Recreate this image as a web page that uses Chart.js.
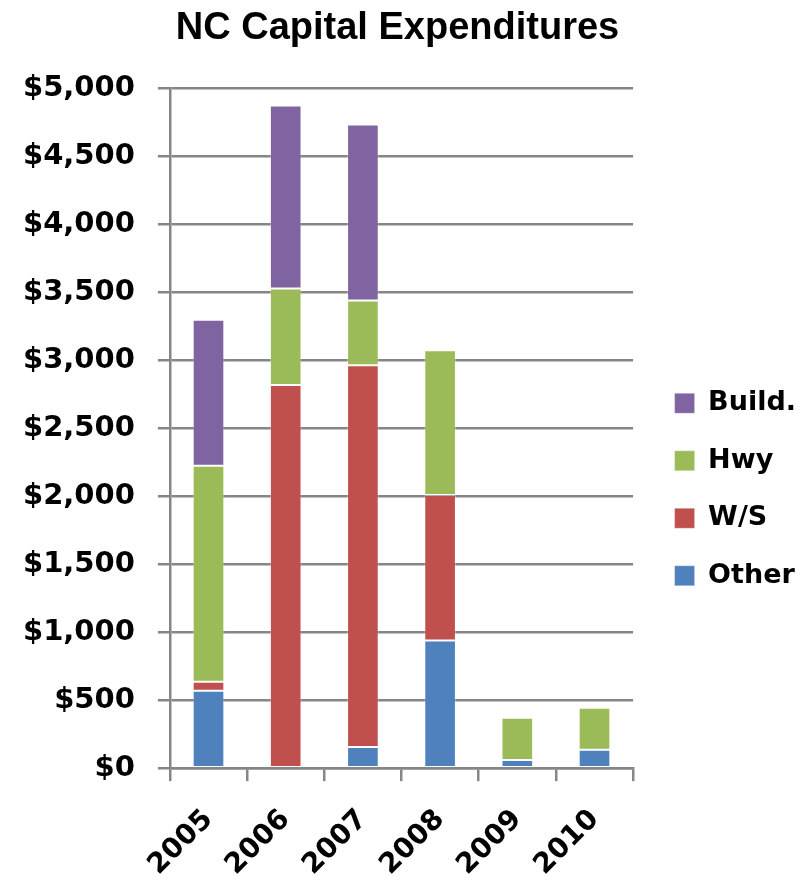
<!DOCTYPE html>
<html>
<head>
<meta charset="utf-8">
<script src="https://cdn.jsdelivr.net/npm/chart.js@4.4.1/dist/chart.umd.min.js"></script>
<style>
    html, body { margin: 0; padding: 0; background: #ffffff; }
    #wrap { width: 805px; height: 889px; }
</style>
</head>
<body>
<div id="wrap"><canvas id="capexChart" width="805" height="889"></canvas></div>
<script>
// Capital expenditures by year, in thousands of dollars
const years = ['2005', '2006', '2007', '2008', '2009', '2010'];
const other = [570, 0, 155, 940, 60, 135];
const waterSewer = [65, 2820, 2810, 1070, 0, 0];
const highway = [1590, 710, 475, 1065, 310, 310];
const buildings = [1075, 1345, 1295, 10, 0, 0];

const yTicks = [0, 500, 1000, 1500, 2000, 2500, 3000, 3500, 4000, 4500, 5000];

const gridGray = '#868686';
const legendShiftX = 11; // nudge the legend right, away from the plot
const legendShiftY = 36; // and down, level with the middle of the bars

// Moves the legend box after layout
const legendOffset = {
    id: 'legendOffset',
    afterLayout(chart) {
        const lg = chart.legend;
        if (!lg) return;
        lg.left += legendShiftX;
        lg.right += legendShiftX;
        lg.top += legendShiftY;
        lg.bottom += legendShiftY;
    }
};

function makeSet(label, data, color) {
    return {
        label: label,
        data: data,
        backgroundColor: color,
        borderColor: 'rgba(255,255,255,0.3)',
        borderWidth: 1,
        borderSkipped: false,
        barPercentage: 0.41,
        categoryPercentage: 1.0
    };
}

const ctx = document.getElementById('capexChart').getContext('2d');
new Chart(ctx, {
    type: 'bar',
    data: {
        labels: years,
        datasets: [
            makeSet('Other', other, '#4F81BD'),
            makeSet('W/S', waterSewer, '#C0504D'),
            makeSet('Hwy', highway, '#9BBB59'),
            makeSet('Build.', buildings, '#8064A2')
        ]
    },
    options: {
        responsive: false,
        animation: false,
        layout: {
            padding: { left: 0, right: 10, top: 3, bottom: -15 }
        },
        plugins: {
            title: {
                display: true,
                text: 'NC Capital Expenditures',
                color: '#000000',
                font: { family: 'Liberation Sans', size: 38, weight: 'bold' },
                padding: { top: 3, bottom: 37 }
            },
            legend: {
                position: 'right',
                reverse: true,
                labels: {
                    color: '#000000',
                    boxWidth: 20,
                    boxHeight: 20,
                    padding: 30.5,
                    font: { family: 'DejaVu Sans', size: 27, weight: 'bold' }
                }
            },
            tooltip: { enabled: false }
        },
        scales: {
            x: {
                stacked: true,
                grid: {
                    display: true,
                    drawOnChartArea: false,
                    drawTicks: true,
                    tickLength: 13,
                    color: gridGray,
                    lineWidth: 2.5
                },
                border: { color: gridGray, width: 2.5 },
                ticks: {
                    color: '#000000',
                    minRotation: 45,
                    maxRotation: 45,
                    padding: 22,
                    font: { family: 'DejaVu Sans', size: 28, weight: 'bold' }
                }
            },
            y: {
                stacked: true,
                min: 0,
                max: 5000,
                afterBuildTicks: function (axis) {
                    axis.ticks = yTicks.map(v => ({ value: v }));
                },
                grid: {
                    color: gridGray,
                    lineWidth: 2.5,
                    tickLength: 12
                },
                border: { color: gridGray, width: 2.5 },
                ticks: {
                    color: '#000000',
                    padding: 23,
                    font: { family: 'DejaVu Sans', size: 29, weight: 'bold' },
                    callback: function (value) {
                        return '$' + value.toLocaleString('en-US');
                    }
                }
            }
        }
    },
    plugins: [legendOffset]
});
</script>
</body>
</html>
